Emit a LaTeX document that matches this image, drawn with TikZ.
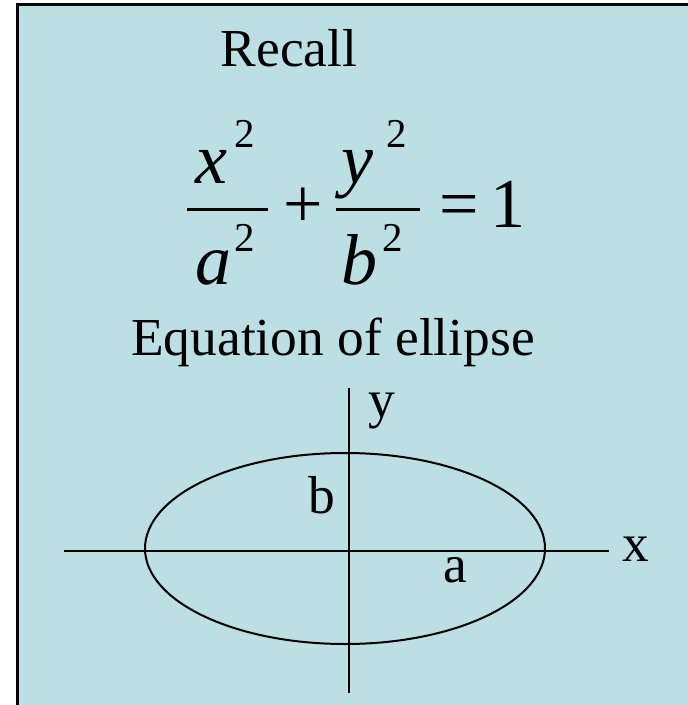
\documentclass[tikz,border=0pt]{standalone}
\usepackage{fontspec}
\setmainfont{Liberation Serif}
\usepackage{xcolor}
\usepackage{tikz}
\usetikzlibrary{positioning, calc}
\definecolor{slidebg}{RGB}{187,223,226}
\tikzset{
  slidetext/.style={
    font=\fontsize{26.7}{32}\selectfont, inner sep=0pt, text=black
  },
  axislabel/.style={
    font=\fontsize{26.7}{32}\selectfont, inner sep=0pt, anchor=base west
  },
  eqsym/.style={
    font=\fontsize{35}{42}\selectfont, inner sep=0pt, anchor=base west
  },
  eqvar/.style={
    font=\fontsize{36}{42}\selectfont\itshape, inner sep=0pt, anchor=base west
  },
  eqpow/.style={
    font=\fontsize{20.5}{24}\selectfont, inner sep=0pt, anchor=base west
  },
  fracbar/.style={line width=1.5pt, black},
  axisline/.style={line width=1pt, black},
  curveline/.style={line width=1pt, black},
}

\begin{document}
\begin{tikzpicture}[x=0.5pt, y=-0.5pt]
  \useasboundingbox (0,0) rectangle (688,705);

  % ---- SLIDE BACKGROUND ----
  \fill[slidebg] (17.5,5) rectangle (688,705);
  \draw[line width=1.5pt] (17.5,705) -- (17.5,5) -- (688,5);

  % ---- TITLE ----
  \node[slidetext, anchor=base] (recall) at (289,67) {Recall};

  % ---- FORMULA ----
  \node[eqvar] (numx) at (195,184) {x};
  \node[eqpow] (powx) at (234,148) {2};
  \node[eqvar] (dena) at (195,285) {a};
  \node[eqpow] (powa) at (234,252) {2};
  \coordinate (barAl) at (187,210);
  \coordinate (barAr) at (268,210);
  \draw[fracbar] (barAl) -- (barAr);

  \node[eqsym] (plus) at (283,228) {+};

  \node[eqvar] (numy) at (341,184) {y};
  \node[eqpow] (powy) at (386,148) {2};
  \node[eqvar] (denb) at (341,285) {b};
  \node[eqpow] (powb) at (382,252) {2};
  \coordinate (barBl) at (336,210);
  \coordinate (barBr) at (420,210);
  \draw[fracbar] (barBl) -- (barBr);

  \node[eqsym] (equals) at (439,228) {=};
  \node[eqsym] (one) at (490,228) {1};

  % ---- CAPTION ----
  \node[slidetext, anchor=base] (caption) at (333,355) {Equation of ellipse};

  % ---- AXES ----
  \coordinate (xleft)  at (64,551);
  \coordinate (xright) at (609,551);
  \coordinate (ytop)   at (349,388);
  \coordinate (ybot)   at (349,693);
  \draw[axisline] (xleft) -- (xright);
  \draw[axisline] (ytop) -- (ybot);

  % ---- ELLIPSE ----
  \coordinate (centre) at (345,548.5);
  \draw[curveline] (centre) ellipse [x radius=100pt, y radius=47.75pt];

  % ---- LABELS ----
  \node[axislabel] (ylab) at (368,417) {y};
  \node[axislabel] (xlab) at (622,561) {x};
  \node[axislabel] (blab) at (308,513) {b};
  \node[axislabel] (alab) at (443,582) {a};
\end{tikzpicture}
\end{document}
